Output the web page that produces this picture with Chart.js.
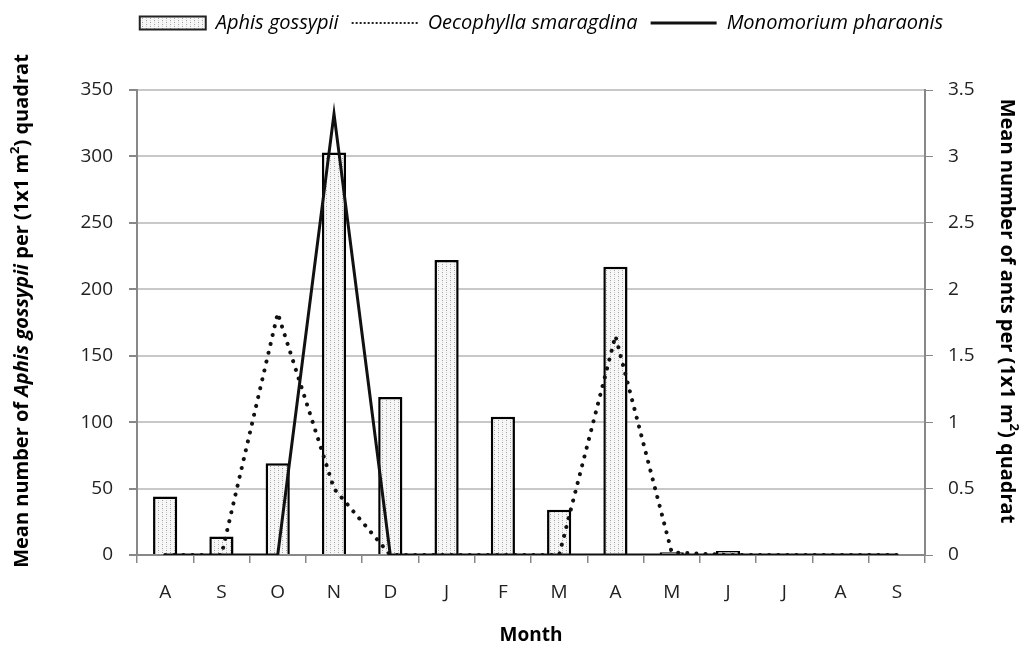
<!DOCTYPE html>
<html>
<head>
<meta charset="utf-8">
<script src="https://cdn.jsdelivr.net/npm/chart.js@4.4.1/dist/chart.umd.min.js"></script>
<style>
  html, body { margin: 0; padding: 0; background: #fff; }
  canvas { display: block; }
</style>
</head>
<body>
<canvas id="chart" width="1027" height="650"></canvas>
<script>
// months from August to the following September
const months = ['A', 'S', 'O', 'N', 'D', 'J', 'F', 'M', 'A', 'M', 'J', 'J', 'A', 'S'];
const aphisGossypii = [44, 14, 69, 303, 119, 222, 104, 34, 217, 2, 3, 0, 0, 0];
const oecophyllaSmaragdina = [0, 0, 1.82, 0.5, 0, 0, 0, 0, 1.65, 0.02, 0, 0, 0, 0];
const monomoriumPharaonis = [0, 0, 0, 3.32, 0, 0, 0, 0, 0, 0, 0, 0, 0, 0];
const seriesNames = ['Aphis gossypii', 'Oecophylla smaragdina', 'Monomorium pharaonis'];

const FONT = "'Open Sans', sans-serif";
const canvas = document.getElementById('chart');
const ctx = canvas.getContext('2d');

// light stippled fill for the aphid bars
function stipple() {
    const c = document.createElement('canvas');
    c.width = 8;
    c.height = 4;
    const g = c.getContext('2d');
    g.fillStyle = '#f7f7f7';
    g.fillRect(0, 0, 8, 4);
    g.fillStyle = '#a0a0a0';
    g.fillRect(2, 0, 1, 1);
    g.fillRect(6, 2, 1, 1);
    g.fillStyle = '#d2d2d2';
    g.fillRect(2, 2, 1, 1);
    g.fillRect(6, 0, 1, 1);
    return ctx.createPattern(c, 'repeat');
}
const barFill = stipple();

// rotated axis titles with italic species name and superscript
function drawTitle(c, x, y, angle, parts) {
    c.save();
    c.translate(x, y);
    c.rotate(angle);
    c.fillStyle = '#000';
    c.textBaseline = 'alphabetic';
    const fontOf = p => (p.italic ? 'italic ' : '') + 'bold ' + (p.sup ? 13 : 20) + 'px ' + FONT;
    let total = 0;
    parts.forEach(p => { c.font = fontOf(p); p.w = c.measureText(p.text).width; total += p.w; });
    let cx = -total / 2;
    parts.forEach(p => {
        c.font = fontOf(p);
        c.fillText(p.text, cx, p.sup ? -2 : 7);
        cx += p.w;
    });
    c.restore();
}

const axisTitles = {
    id: 'axisTitles',
    beforeLayout(chart) {
        const legend = chart.legend;
        if (legend && !legend._tall) {
            const fit = legend.fit;
            legend.fit = function () { fit.call(this); this.height = 90; };
            legend._tall = true;
        }
    },
    afterLayout(chart) {
        // legend sits a little right of the canvas centre
        chart.legend.left += 28;
        chart.legend.right += 28;
    },
    afterDraw(chart) {
        const c = chart.ctx;
        drawTitle(c, 21, 311, -Math.PI / 2, [
            { text: 'Mean number of ' },
            { text: 'Aphis gossypii', italic: true },
            { text: ' per (1x1 m' },
            { text: '2', sup: true },
            { text: ') quadrat' }
        ]);
        drawTitle(c, 1008, 311, Math.PI / 2, [
            { text: 'Mean number of ants per (1x1 m' },
            { text: '2', sup: true },
            { text: ') quadrat' }
        ]);
    }
};

const tickFont = { family: FONT, size: 19 };

new Chart(ctx, {
    type: 'bar',
    data: {
        labels: months,
        datasets: [
            {
                type: 'line',
                label: seriesNames[1],
                data: oecophyllaSmaragdina,
                yAxisID: 'y1',
                borderColor: '#111',
                borderWidth: 4,
                borderDash: [0.1, 9],
                borderCapStyle: 'round',
                pointRadius: 0,
                fill: false,
                order: 1
            },
            {
                type: 'line',
                label: seriesNames[2],
                data: monomoriumPharaonis,
                yAxisID: 'y1',
                borderColor: '#111',
                borderWidth: 3,
                pointRadius: 0,
                fill: false,
                order: 0
            },
            {
                type: 'bar',
                label: seriesNames[0],
                data: aphisGossypii,
                yAxisID: 'y',
                backgroundColor: barFill,
                borderColor: '#000',
                borderWidth: 2.5,
                barPercentage: 0.43,
                categoryPercentage: 1,
                order: 2
            }
        ]
    },
    options: {
        responsive: false,
        animation: false,
        devicePixelRatio: 1,
        layout: { padding: 0 },
        plugins: {
            tooltip: { enabled: false },
            legend: {
                position: 'top',
                labels: {
                    usePointStyle: true,
                    pointStyleWidth: 66,
                    boxHeight: 13,
                    padding: 13,
                    color: '#222',
                    font: { family: FONT, size: 20, style: 'italic' },
                    generateLabels: () => [
                        { text: seriesNames[0], fillStyle: barFill, strokeStyle: '#222', lineWidth: 2, pointStyle: 'rect', datasetIndex: 2 },
                        { text: seriesNames[1], fillStyle: '#fff', strokeStyle: '#222', lineWidth: 2, lineDash: [2, 2], pointStyle: 'line', datasetIndex: 0 },
                        { text: seriesNames[2], fillStyle: '#fff', strokeStyle: '#111', lineWidth: 3, pointStyle: 'line', datasetIndex: 1 }
                    ]
                }
            }
        },
        scales: {
            x: {
                grid: { offset: true, drawOnChartArea: false, drawTicks: true, tickLength: 8, color: '#888', lineWidth: 1.5 },
                border: { color: '#888', width: 2 },
                ticks: { font: tickFont, color: '#222', padding: 18 },
                title: {
                    display: true,
                    text: 'Month',
                    color: '#000',
                    font: { family: FONT, size: 19, weight: 'bold' },
                    padding: { top: 4, bottom: 3 }
                },
                afterFit: s => { s.height = 95; }
            },
            y: {
                position: 'left',
                min: 0,
                max: 350,
                ticks: { stepSize: 50, font: tickFont, color: '#222', padding: 16 },
                grid: { color: '#c8c8c8', lineWidth: 2, tickColor: '#888', tickLength: 8 },
                border: { color: '#888', width: 2 },
                afterFit: s => { s.width = 137; }
            },
            y1: {
                position: 'right',
                min: 0,
                max: 3.5,
                ticks: { stepSize: 0.5, font: tickFont, color: '#222', padding: 15, callback: v => String(v) },
                grid: { drawOnChartArea: false, color: '#888', tickLength: 8 },
                border: { color: '#888', width: 2 },
                afterFit: s => { s.width = 102; }
            }
        }
    },
    plugins: [axisTitles]
});
</script>
</body>
</html>
